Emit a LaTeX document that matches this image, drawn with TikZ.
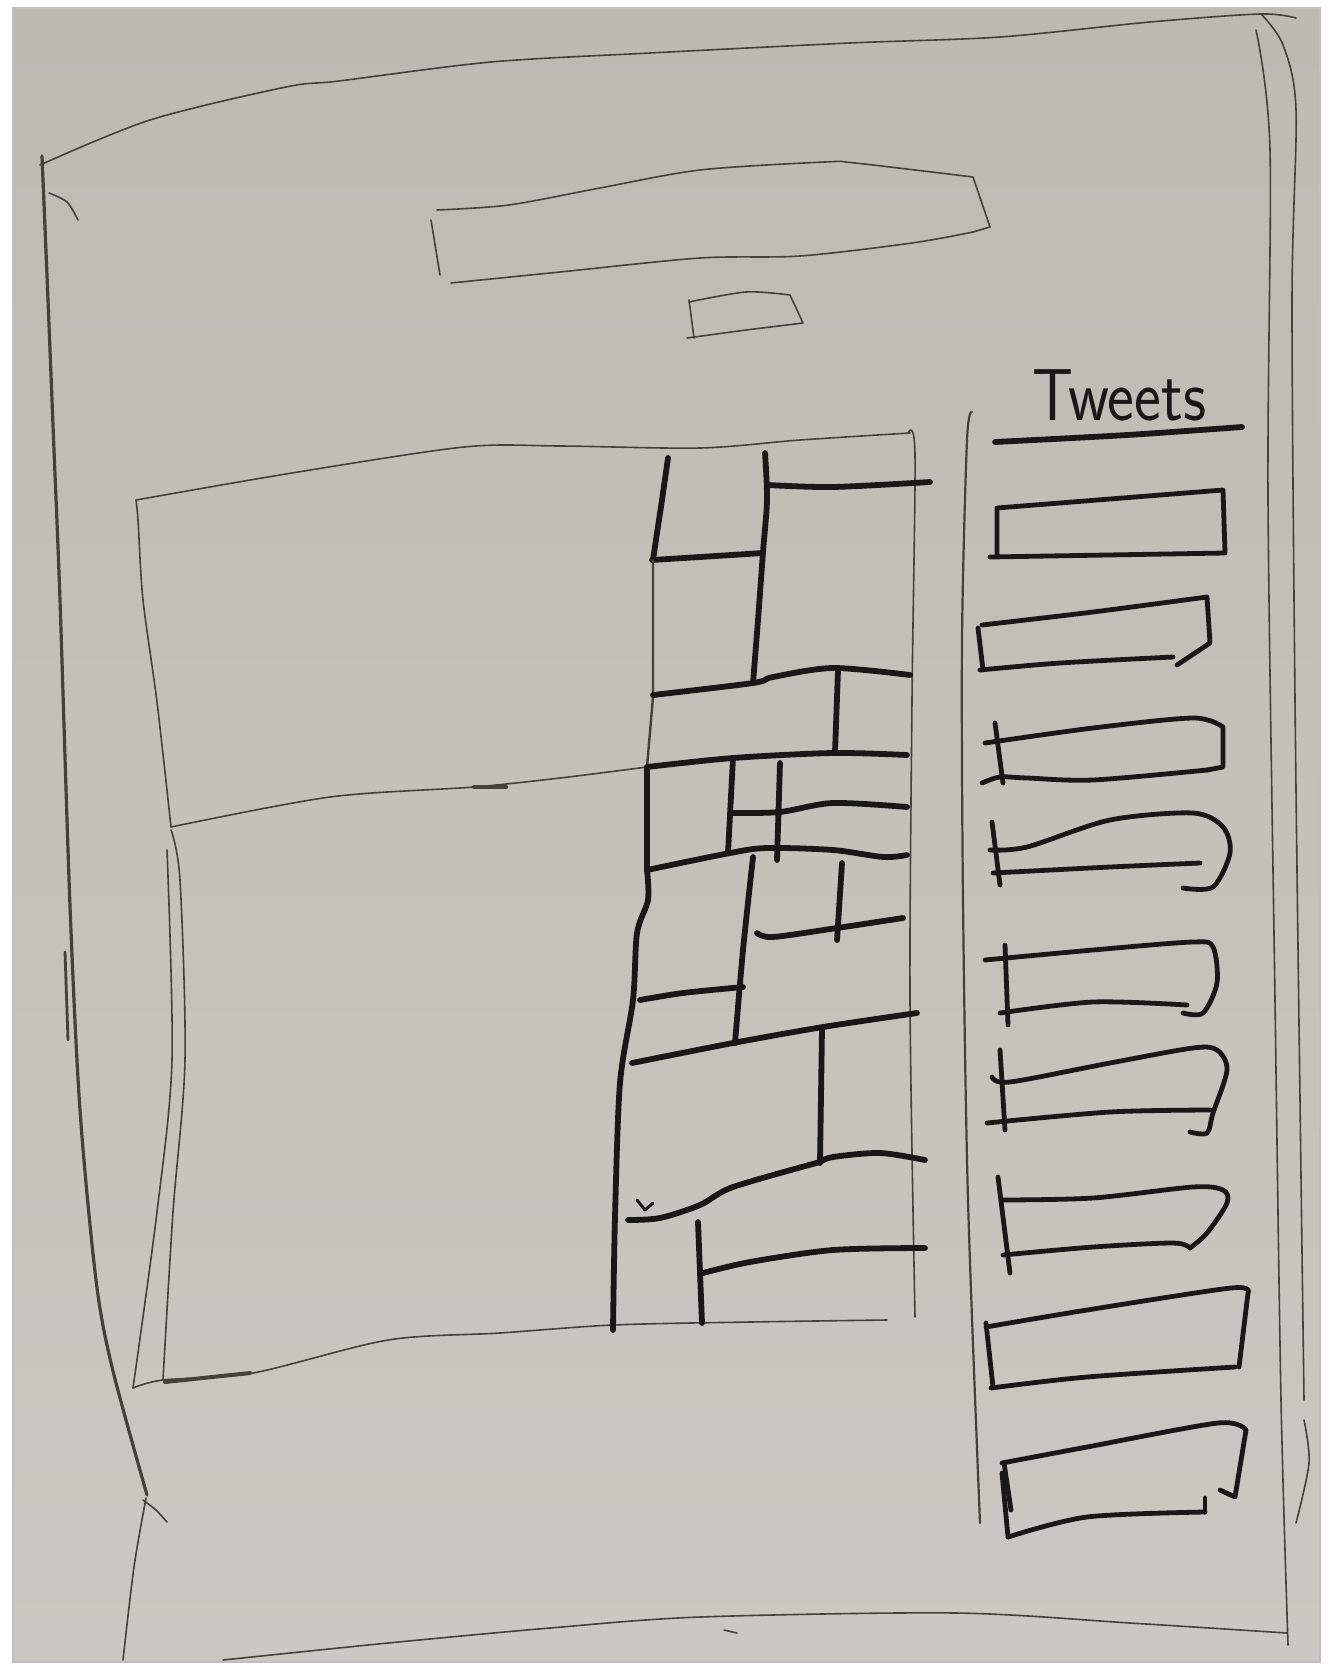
\documentclass[tikz,border=0pt]{standalone}
\usepackage{tikz}
\usetikzlibrary{positioning}
\definecolor{paper}{RGB}{202,200,194}
\definecolor{papertop}{RGB}{189,186,178}
\definecolor{pencil}{RGB}{68,64,58}
\definecolor{ink}{RGB}{26,24,22}

\begin{document}
\begin{tikzpicture}[x=0.5pt, y=-0.5pt,
    pencil/.style={draw=pencil, line width=0.8pt, line cap=round, line join=round},
    inkline/.style={draw=ink, line width=2.9pt, line cap=round, line join=round},
    tweetbox/.style={draw=ink, line width=2.4pt, line cap=round, line join=round}
]
\useasboundingbox (0,0) rectangle (1335,1670);
\fill[white] (0,0) rectangle (1335,1670);
\shade[top color=papertop, bottom color=paper] (13,8) rectangle (1320,1662);
\draw[black!25, line width=0.6pt] (13,8) rectangle (1320,1662);

% page outline
\draw[pencil] plot[smooth] coordinates {(40,165) (150,120) (286,87) (339,81) (491,62) (650,53) (850,43) (1000,37) (1150,22) (1260,14) (1296,18)};
\draw[pencil, line width=1.6pt] plot[smooth] coordinates {(42,156) (48,300) (54,450) (60,600) (70,906) (80,1110) (96,1280) (112,1367) (147,1495)};
\draw[pencil] plot[smooth] coordinates {(49,193) (67,202) (78,220)};
\draw[pencil] plot[smooth] coordinates {(143,1500) (156,1510) (167,1522)};
\draw[pencil] plot[smooth] coordinates {(146,1498) (134,1567) (123,1660)};
\draw[pencil, line width=1.4pt] (65,952) -- (68,1040);
\draw[pencil] plot[smooth] coordinates {(223,1660) (388,1643) (550,1628) (700,1617) (956,1613) (1130,1623) (1287,1633)};
\draw[pencil] (724,1630) -- (737,1633);
\draw[pencil] plot[smooth] coordinates {(1262,15) (1283,45) (1296,110) (1292,300) (1295,700) (1300,1100) (1304,1400)};
\draw[pencil] plot[smooth] coordinates {(1304,1420) (1309,1463) (1296,1523)};
\draw[pencil] plot[smooth] coordinates {(1256,30) (1270,150) (1268,500) (1275,1000) (1281,1400) (1288,1645)};

% title bar and button
\draw[pencil] plot[smooth] coordinates {(437,210) (509,205) (600,188) (700,170) (825,162) (855,163) (973,177)} -- (990,227) -- (973,232);
\draw[pencil] plot[smooth] coordinates {(973,232) (912,243) (800,256) (700,258) (560,272) (451,283)};
\draw[pencil] (431,220) -- (440,275);
\draw[pencil] (689,300) -- (694,338);
\draw[pencil] plot[smooth] coordinates {(689,302) (746,292) (790,295)} -- (803,323) -- (746,330) -- (687,338);

% content panel
\draw[pencil] plot[smooth] coordinates {(136,500) (292,473) (464,447) (560,446) (700,448) (800,440) (910,433)};
\draw[pencil] plot[smooth] coordinates {(908,433) (915,455) (912,700) (910,1000) (915,1317)};
\draw[pencil] plot[smooth] coordinates {(136,500) (138,520) (143,600) (157,702) (171,827)};
\draw[pencil] plot[smooth] coordinates {(171,827) (330,797) (474,787) (560,778) (647,767)};
\draw[pencil, line width=2.2pt] (474,787) -- (506,787);
\draw[pencil] plot[smooth] coordinates {(171,830) (180,880) (185,1060) (173,1212) (163,1380)};
\draw[pencil] plot[smooth] coordinates {(167,850) (172,1060) (157,1212) (133,1388)};
\draw[pencil] plot[smooth] coordinates {(133,1388) (163,1380) (253,1373) (388,1340) (500,1333) (613,1325) (750,1322) (887,1320)};
\draw[pencil, line width=2pt] (165,1382) -- (250,1373);

% masonry grid
\draw[inkline] plot[smooth] coordinates {(668,458) (662,500) (657,533) (653,560)};
\draw[inkline] plot[smooth] coordinates {(765,453) (767,500) (763,552) (758,620) (753,683)};
\draw[inkline] plot[smooth] coordinates {(768,485) (833,487) (930,482)};
\draw[inkline] plot[smooth] coordinates {(652,560) (700,557) (763,553)};
\draw[pencil, line width=1.2pt] (653,560) -- (653,697) -- (647,767);
\draw[inkline] plot[smooth] coordinates {(653,695) (753,683) (773,677) (833,668) (910,675)};
\draw[inkline] (838,670) -- (835,752);
\draw[inkline] plot[smooth] coordinates {(647,767) (733,758) (833,753) (907,755)};
\draw[inkline] (733,758) -- (728,853);
\draw[inkline] (780,763) -- (777,860);
\draw[inkline] plot[smooth] coordinates {(733,813) (780,812) (833,803) (907,807)};
\draw[inkline] (647,767) -- (647,870);
\draw[inkline] plot[smooth] coordinates {(647,870) (730,853) (767,848) (833,850) (883,857) (907,855)};
\draw[inkline] plot[smooth] coordinates {(647,870) (648,900) (637,933) (633,1000) (620,1083) (615,1217) (613,1330)};
\draw[inkline] plot[smooth] coordinates {(753,857) (743,950) (735,1043)};
\draw[inkline] (842,863) -- (837,940);
\draw[inkline] plot[smooth] coordinates {(757,933) (773,937) (837,928) (903,918)};
\draw[inkline] plot[smooth] coordinates {(640,1000) (683,993) (743,987)};
\draw[inkline] plot[smooth] coordinates {(632,1063) (733,1043) (823,1027) (917,1013)};
\draw[inkline] (822,1028) -- (820,1163);
\draw[inkline] plot[smooth] coordinates {(820,1162) (833,1157) (880,1153) (925,1160)};
\draw[inkline] plot[smooth] coordinates {(628,1220) (660,1218) (700,1205) (733,1187) (820,1162)};
\draw[inkline, line width=1.5pt] (637,1200) -- (645,1210) -- (653,1203);
\draw[inkline] (698,1222) -- (702,1323);
\draw[inkline] plot[smooth] coordinates {(703,1273) (750,1262) (833,1250) (925,1248)};

% tweets column
\draw[pencil, line width=1.1pt] plot[smooth] coordinates {(972,412) (967,440) (962,640) (963,900) (968,1200) (980,1523)};
\node[font=\sffamily\fontsize{32}{32}\selectfont, text=ink, anchor=base west, inner sep=0pt, yscale=1.15] (tweets) at (1032,420) {Tweets};
\draw[inkline] plot[smooth] coordinates {(995,442) (1127,435) (1242,427)};

\draw[tweetbox] (990,557) -- (1225,553) -- (1223,490) -- (997,508) -- (997,555);

\draw[tweetbox] plot[smooth] coordinates {(982,625) (1093,612) (1207,597)} -- (1210,643) -- (1177,665);
\draw[tweetbox] plot[smooth] coordinates {(1173,657) (1060,663) (980,670)};
\draw[tweetbox] (978,628) -- (983,670);

\draw[tweetbox] (995,723) -- (1003,783);
\draw[tweetbox] plot[smooth] coordinates {(985,743) (1093,728) (1193,718) (1223,727)} -- (1223,767) -- (1207,770);
\draw[tweetbox] plot[smooth] coordinates {(1207,770) (1093,780) (1027,778) (1000,777) (982,783)};

\draw[tweetbox] (992,822) -- (1000,885);
\draw[tweetbox] plot[smooth] coordinates {(990,850) (1027,847) (1110,820) (1193,813) (1223,827) (1230,853) (1213,887) (1183,888)};
\draw[tweetbox] plot[smooth] coordinates {(1200,863) (1110,867) (993,873)};

\draw[tweetbox] (1005,945) -- (1008,1025);
\draw[tweetbox] plot[smooth] coordinates {(985,960) (1093,950) (1193,942) (1213,947) (1217,983) (1203,1013) (1183,1013)};
\draw[tweetbox] plot[smooth] coordinates {(1187,1005) (1093,1002) (1000,1013)};

\draw[tweetbox] (1000,1050) -- (1005,1130);
\draw[tweetbox] plot[smooth] coordinates {(992,1077) (1010,1082) (1110,1063) (1193,1048) (1217,1050) (1227,1070) (1213,1113) (1207,1133) (1190,1132)};
\draw[tweetbox] plot[smooth] coordinates {(1210,1110) (1110,1112) (987,1123)};

\draw[tweetbox] (998,1177) -- (1010,1273);
\draw[tweetbox] plot[smooth] coordinates {(1003,1200) (1093,1198) (1193,1187) (1223,1190) (1227,1203) (1207,1233) (1190,1248)};
\draw[tweetbox] plot[smooth] coordinates {(1190,1248) (1173,1243) (1093,1247) (1003,1255)};

\draw[tweetbox] (986,1323) -- (993,1387);
\draw[tweetbox] plot[smooth] coordinates {(986,1327) (1087,1310) (1231,1288) (1248,1293)} -- (1239,1367);
\draw[tweetbox] plot[smooth] coordinates {(1235,1367) (1087,1377) (991,1388)};

\draw[tweetbox] (1004,1463) -- (1011,1510);
\draw[tweetbox] (1002,1473) -- (1008,1537);
\draw[tweetbox] plot[smooth] coordinates {(1002,1463) (1087,1447) (1218,1423) (1246,1430)} -- (1235,1497) -- (1220,1490);
\draw[tweetbox] (1205,1498) -- (1205,1512);
\draw[tweetbox] plot[smooth] coordinates {(1205,1512) (1087,1517) (1008,1537)};
\end{tikzpicture}
\end{document}
